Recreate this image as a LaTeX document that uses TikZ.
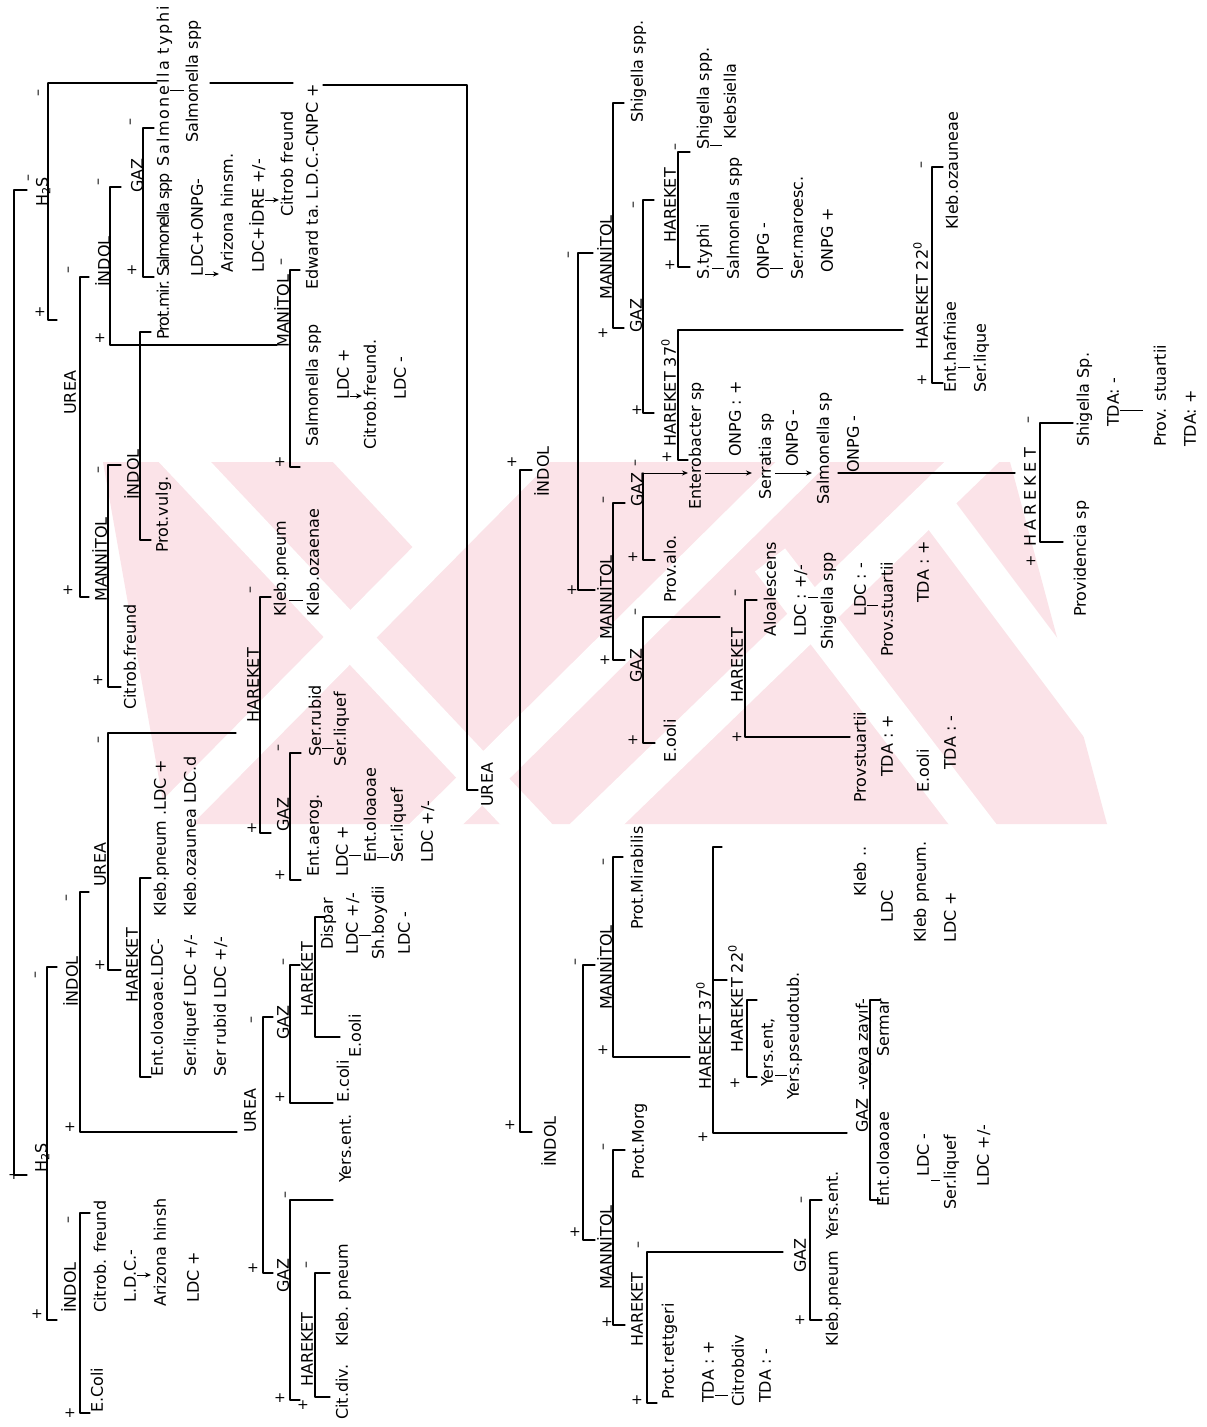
\documentclass[tikz,border=0pt]{standalone}
\usepackage{fontspec}
\newfontfamily\hw{DejaVu Sans}
\usetikzlibrary{arrows.meta}
\definecolor{wm}{RGB}{251,227,232}
\newcounter{sgn}
\newcommand\T[4]{\node[tx] (#1) at ({#2+5.8},#3) {#4};}
\newcommand\Pl[2]{\stepcounter{sgn}\edef\cnum{\arabic{sgn}}\node[sg] (p\cnum) at (#1,#2) {+};}
\newcommand\Mi[2]{\stepcounter{sgn}\edef\cnum{\arabic{sgn}}\node[sg,rotate=90] (m\cnum) at (#1,#2) {–};}
\newcommand\Br[6]{\coordinate (#1a) at (#5,#3); \coordinate (#1b) at (#2,#3); \coordinate (#1c) at (#2,#4); \coordinate (#1d) at (#6,#4); \draw[ln] (#1a) -- (#1b) -- (#1c) -- (#1d);}
\newcommand\Cn[3]{\stepcounter{sgn}\edef\cnum{\arabic{sgn}}\coordinate (ca\cnum) at (#1,#3); \coordinate (cb\cnum) at (#2,#3); \draw[cn] (ca\cnum) -- (cb\cnum);}
\newcommand\Ar[3]{\stepcounter{sgn}\edef\cnum{\arabic{sgn}}\coordinate (aa\cnum) at (#1,#3); \coordinate (ab\cnum) at (#2,#3); \draw[cn,-{Stealth[length=6pt,width=5pt]}] (aa\cnum) -- (ab\cnum);}
\begin{document}
\begin{tikzpicture}[x=1pt,y=-1pt,
  tx/.style={rotate=90,anchor=base west,inner sep=0pt,font=\fontsize{16}{18}\selectfont\hw},
  sg/.style={inner sep=0pt,font=\fontsize{14}{14}\selectfont\hw},
  ln/.style={line width=1.3pt,line cap=round,line join=round},
  cn/.style={line width=1pt},
  ws/.style={white,line width=38pt}]
\useasboundingbox (0,0) rectangle (1207,1427);
\fill[white] (0,0) rectangle (1207,1427);
% ---------- watermark (faint pink stripes) ----------
\begin{scope}
\clip (0,462) rectangle (1207,824);
\fill[wm] (103,462) -- (1010,462) -- (1107,824) -- (167,824) -- cycle;
\fill[white] (333,462) -- (510,462) -- (421,556) -- cycle;
\draw[ws] (150,425) -- (560,860);
\draw[ws] (560,425) -- (130,860);
\draw[ws] (840,425) -- (400,860);
\draw[ws] (1010,425) -- (560,860);
\draw[ws] (770,560) -- (1000,860);
\draw[ws] (930,500) -- (1200,860);
\end{scope}
% ================= LEFT PART =================
\coordinate (rt) at (27,190); \coordinate (rT) at (14,190); \coordinate (rB) at (14,1175); \coordinate (rb) at (27,1175);
\draw[ln] (rt)--(rT)--(rB)--(rb);
\Mi{30}{178} \Pl{14}{1175}
% H2S top
\T{hsA}{42}{207}{H\textsubscript{2}S}
\Br{bhA}{48}{83}{320}{48}{57}
\coordinate (uA1) at (157,83); \coordinate (uA2) at (210,83); \coordinate (uA3) at (293,83);
\coordinate (uA4) at (323,85); \coordinate (uA5) at (467,85); \coordinate (uA6) at (467,790); \coordinate (uA7) at (478,790);
\draw[ln] (bhAb)--(uA1); \draw[ln] (uA2)--(uA3); \draw[ln] (uA4)--(uA5)--(uA6)--(uA7);
\Mi{40}{93} \Pl{40}{312}
% UREA-1
\T{urA}{70}{415}{UREA}
\Br{buA}{80}{277}{597}{89}{89}
\Mi{70}{270} \Pl{68}{590}
% INDOL-1
\T{inA}{104}{287}{İNDOL}
\Br{biA}{110}{187}{345}{121}{277}
\Mi{100}{182} \Pl{100}{338}
% GAZ-1
\T{gzA}{137}{193}{GAZ}
\Br{bgA}{143}{128}{277}{154}{154}
\Mi{132}{122} \Pl{132}{270}
\T{t1}{163}{167}{\addfontfeature{LetterSpace=12}Salmonella typhi}
\T{t2}{192}{143}{Salmonella spp}
\Cn{170}{184}{90}
\T{t3}{163}{277}{\addfontfeature{LetterSpace=-10}Salmonella spp}
\T{t4}{197}{277}{LDC+ONPG-}
\Ar{205}{219}{274}
\T{t5}{227}{273}{Arizona hinsm.}
\T{t6}{258}{273}{LDC+İDRE +/-}
\Ar{265}{279}{200}
\T{t7}{287}{217}{Citrob freund}
% MANITOL-1
\T{mnA}{283}{348}{MANİTOL}
\Br{bmA}{290}{270}{467}{300}{300}
\Mi{283}{262} \Pl{280}{462}
\T{t8}{312}{447}{Salmonella spp}
\T{t9}{312}{290}{Edward ta.}
\T{t10}{312}{200}{L.D.C.-CNPC +}
\T{t11}{343}{400}{LDC +}
\Ar{350}{362}{396}
\T{t12}{370}{450}{Citrob.freund.}
\T{t13}{400}{400}{LDC -}
% MANNITOL-2
\T{mnB}{101}{602}{MANNİTOL}
\Br{bmB}{108}{465}{687}{121}{121}
\Mi{100}{470} \Pl{98}{680}
\T{t14}{130}{710}{Citrob.freund}
% INDOL-2
\T{inB}{133}{500}{İNDOL}
\Br{biB}{140}{332}{540}{151}{151}
\T{t15}{163}{340}{\addfontfeature{LetterSpace=-6}Prot.mir.}
\T{t16}{162}{553}{Prot.vulg.}
% UREA-2
\T{urB}{100}{887}{UREA}
\Br{buB}{108}{733}{970}{236}{121}
\Mi{100}{740} \Pl{100}{965}
% HAREKET-3
\T{hkA}{253}{723}{HAREKET}
\Br{bkA}{260}{597}{833}{271}{271}
\Mi{252}{590} \Pl{252}{828}
\T{t17}{280}{617}{Kleb.pneum}
\Cn{289}{303}{600}
\T{t18}{313}{617}{Kleb.ozaenae}
% GAZ-2
\T{gzB}{283}{832}{GAZ}
\Br{bgB}{290}{753}{880}{301}{301}
\Mi{280}{748} \Pl{280}{875}
\T{t19}{315}{757}{Ser.rubid}
\Cn{322}{334}{748}
\T{t20}{340}{767}{Ser.liquef}
\T{t21}{313}{877}{Ent.aerog.}
\T{t22}{342}{877}{LDC +}
\Cn{349}{361}{855}
\T{t23}{370}{863}{Ent.oloaoae}
\Cn{377}{389}{857}
\T{t24}{397}{863}{Ser.liquef}
\T{t25}{427}{863}{LDC +/-}
% HAREKET-2
\T{hkB}{132}{1003}{HAREKET}
\Br{bkB}{140}{878}{1077}{151}{151}
\T{t26}{160}{917}{Kleb.pneum .LDC +}
\T{t27}{190}{917}{Kleb.ozaunea LDC.d}
\T{t28}{157}{1077}{Ent.oloaoae.LDC-}
\T{t29}{190}{1077}{Ser.liquef LDC +/-}
\T{t30}{220}{1077}{Ser rubid LDC +/-}
% INDOL-3
\T{inC}{72}{1007}{İNDOL}
\Br{biC}{80}{892}{1132}{89}{237}
\Mi{68}{898} \Pl{70}{1127}
% H2S bottom
\T{hsB}{41}{1173}{H\textsubscript{2}S}
\Br{bhB}{47}{967}{1320}{57}{57}
\Mi{37}{975} \Pl{37}{1314}
% INDOL-4
\T{inD}{70}{1313}{İNDOL}
\Br{biD}{80}{1213}{1413}{90}{90}
\Mi{70}{1220} \Pl{70}{1413}
\T{t31}{100}{1313}{Citrob. freund}
\T{t32}{97}{1413}{E.Coli}
\T{t33}{130}{1303}{L.D.C.-}
\Ar{137}{151}{1275}
\T{t34}{160}{1307}{Arizona hinsh}
\T{t35}{193}{1303}{LDC +}
% UREA-4
\T{urC}{250}{1133}{UREA}
\Br{buC}{263}{1017}{1273}{273}{273}
\Mi{253}{1020} \Pl{253}{1268}
% GAZ-3
\T{gzC}{283}{1040}{GAZ}
\Br{bgC}{290}{965}{1103}{300}{333}
\Mi{285}{962} \Pl{280}{1097}
\T{t36}{343}{1103}{E.coli}
% HAREKET-4
\T{hkC}{307}{1017}{HAREKET}
\Br{bkC}{315}{917}{1037}{325}{340}
\T{t37}{355}{1058}{E.ooli}
\T{t38}{327}{950}{Dispar}
\T{t39}{352}{955}{LDC +/-}
\Cn{359}{371}{935}
\T{t40}{378}{960}{Sh.boydii}
\T{t41}{404}{955}{LDC -}
% GAZ-4
\T{gzD}{283}{1293}{GAZ}
\Br{bgD}{290}{1200}{1400}{333}{300}
\Mi{287}{1195} \Pl{280}{1398}
\T{t42}{345}{1183}{Yers.ent.}
% HAREKET-5
\T{hkD}{307}{1387}{HAREKET}
\Br{bkD}{315}{1273}{1397}{330}{330}
\Mi{308}{1265} \Pl{303}{1405}
\T{t43}{342}{1347}{Kleb. pneum}
\T{t44}{342}{1420}{Cit.div.}
% ================= RIGHT PART =================
\T{urD}{487}{807}{UREA}
\coordinate (L1a) at (520,470); \coordinate (L1b) at (520,1132); \coordinate (L1t) at (532,470); \coordinate (L1u) at (532,1132);
\draw[ln] (L1t)--(L1a)--(L1b)--(L1u);
\Pl{512}{462} \Pl{510}{1125}
\T{inE}{543}{497}{İNDOL}
\Br{biE}{578}{253}{590}{593}{595}
\Mi{570}{255} \Pl{572}{590}
\T{mnC}{606}{300}{MANNİTOL}
\Br{bmC}{613}{103}{328}{624}{624}
\Pl{603}{333}
\T{t45}{637}{123}{Shigella spp.}
\T{gzE}{636}{333}{GAZ}
\Br{bgE}{643}{200}{413}{654}{654}
\Mi{635}{205} \Pl{637}{410}
\T{hkE}{670}{243}{HAREKET}
\Br{bkE}{678}{152}{267}{690}{690}
\Mi{677}{147} \Pl{670}{265}
\T{t46}{703}{150}{Shigella spp.}
\Cn{710}{722}{145}
\T{t47}{730}{140}{Klebsiella}
\T{t48}{703}{280}{S.typhi}
\Cn{712}{724}{268}
\T{t49}{733}{280}{Salmonella spp}
\T{t50}{763}{280}{ONPG -}
\Cn{770}{783}{268}
\T{t51}{797}{280}{Ser.maroesc.}
\T{t52}{827}{273}{ONPG +}
\T{hkF}{670}{447}{HAREKET 37\textsuperscript{0}}
\Br{bkF}{678}{330}{460}{903}{688}
\Pl{667}{457}
\T{t53}{695}{510}{Enterobacter sp}
\T{t54}{735}{457}{ONPG : +}
\T{t55}{765}{500}{Serratia sp}
\T{t56}{792}{467}{ONPG -}
\T{t57}{823}{505}{Salmonella sp}
\T{t58}{853}{473}{ONPG -}
\Ar{643}{688}{473} \Ar{705}{752}{473} \Ar{775}{812}{473}
\coordinate (ch1) at (838,473); \coordinate (ch2) at (1015,473);
\draw[ln] (ch1)--(ch2);
\T{hkG}{922}{350}{HAREKET 22\textsuperscript{0}}
\Br{bkG}{932}{167}{383}{943}{943}
\Mi{923}{165} \Pl{922}{380}
\T{t59}{952}{230}{Kleb.ozauneae}
\T{t60}{950}{393}{Ent.hafniae}
\Cn{958}{970}{367}
\T{t61}{980}{393}{Ser.lique}
\T{hkH}{1030}{547}{\addfontfeature{LetterSpace=25}HAREKET}
\Br{bkH}{1040}{423}{542}{1073}{1063}
\Mi{1030}{420} \Pl{1031}{561}
\T{t62}{1083}{447}{Shigella Sp.}
\T{t63}{1113}{427}{TDA: -}
\Cn{1120}{1143}{410}
\T{t64}{1160}{447}{Prov. stuartii}
\T{t65}{1190}{447}{TDA: +}
\T{t66}{1080}{617}{Providencia sp}
\T{gzF}{637}{507}{GAZ}
\Br{bgF}{643}{473}{560}{643}{655}
\Mi{637}{463} \Pl{633}{557}
\T{t67}{670}{603}{Prov.alo.}
\T{mnD}{606}{640}{MANNİTOL}
\Br{bmD}{613}{503}{660}{625}{625}
\Mi{605}{500} \Pl{605}{660}
\T{gzG}{636}{683}{GAZ}
\Br{bgG}{643}{617}{743}{720}{655}
\Mi{637}{612} \Pl{633}{740}
\T{t68}{670}{763}{E.ooli}
\T{hkI}{737}{703}{HAREKET}
\Br{bkI}{745}{600}{737}{757}{850}
\Mi{737}{593} \Pl{737}{737}
\T{t69}{770}{637}{Aloalescens}
\T{t70}{800}{637}{LDC : +/-}
\Cn{808}{818}{597}
\T{t71}{827}{650}{Shigella spp}
\T{t72}{860}{617}{LDC : -}
\Cn{867}{878}{605}
\T{t73}{887}{657}{Prov.stuartii}
\T{t74}{860}{803}{Provstuartii}
\T{t75}{887}{777}{TDA : +}
\T{t76}{923}{603}{TDA : +}
\T{t77}{923}{793}{E.ooli}
\T{t78}{950}{770}{TDA : -}
\T{t79}{860}{897}{Kleb ..}
\T{t80}{887}{923}{LDC}
\T{t81}{920}{943}{Kleb pneum.}
\T{t82}{950}{943}{LDC +}
\T{inF}{550}{1167}{İNDOL}
\Br{biF}{583}{965}{1240}{595}{595}
\Mi{577}{962} \Pl{575}{1232}
\T{mnE}{606}{1010}{MANNİTOL}
\Br{bmE}{613}{857}{1057}{623}{690}
\Mi{605}{862} \Pl{603}{1050}
\T{t83}{637}{930}{Prot.Mirabilis}
\T{hkJ}{705}{1090}{HAREKET 37\textsuperscript{0}}
\Br{bkJ}{713}{847}{1133}{722}{847}
\coordinate (jm1) at (713,980); \coordinate (jm2) at (727,980);
\draw[ln] (jm1)--(jm2);
\Pl{703}{1137}
\T{hkK}{737}{1053}{HAREKET 22\textsuperscript{0}}
\Br{bkK}{747}{1000}{1077}{757}{757}
\Pl{735}{1083}
\T{t84}{767}{1087}{Yers.ent,}
\Cn{775}{787}{1075}
\T{t85}{793}{1100}{Yers.pseudotub.}
\T{gzH}{862}{1133}{GAZ \,-veya zayıf-}
\Br{bgH}{870}{1000}{1200}{880}{880}
\T{t86}{883}{1057}{Sermar}
\T{t87}{883}{1207}{Ent.oloaoae}
\T{t88}{923}{1177}{LDC -}
\Cn{931}{940}{1180}
\T{t89}{950}{1210}{Ser.liquef}
\T{t90}{983}{1187}{LDC +/-}
\T{mnF}{606}{1290}{MANNİTOL}
\Br{bmF}{613}{1150}{1325}{625}{625}
\Mi{605}{1147} \Pl{607}{1322}
\T{t91}{638}{1180}{Prot.Morg}
\T{hkL}{637}{1347}{HAREKET}
\Br{bkL}{647}{1252}{1403}{783}{657}
\Mi{640}{1245} \Pl{637}{1400}
\T{t92}{668}{1400}{Prot.rettgeri}
\T{t93}{708}{1403}{TDA : +}
\Cn{715}{728}{1395}
\T{t94}{738}{1407}{Citrobdiv}
\T{t95}{765}{1403}{TDA : -}
\T{gzI}{800}{1273}{GAZ}
\Br{bgI}{810}{1200}{1320}{822}{822}
\Mi{803}{1200} \Pl{800}{1320}
\T{t96}{832}{1347}{Kleb.pneum}
\T{t97}{832}{1240}{Yers.ent.}
\end{tikzpicture}
\end{document}
